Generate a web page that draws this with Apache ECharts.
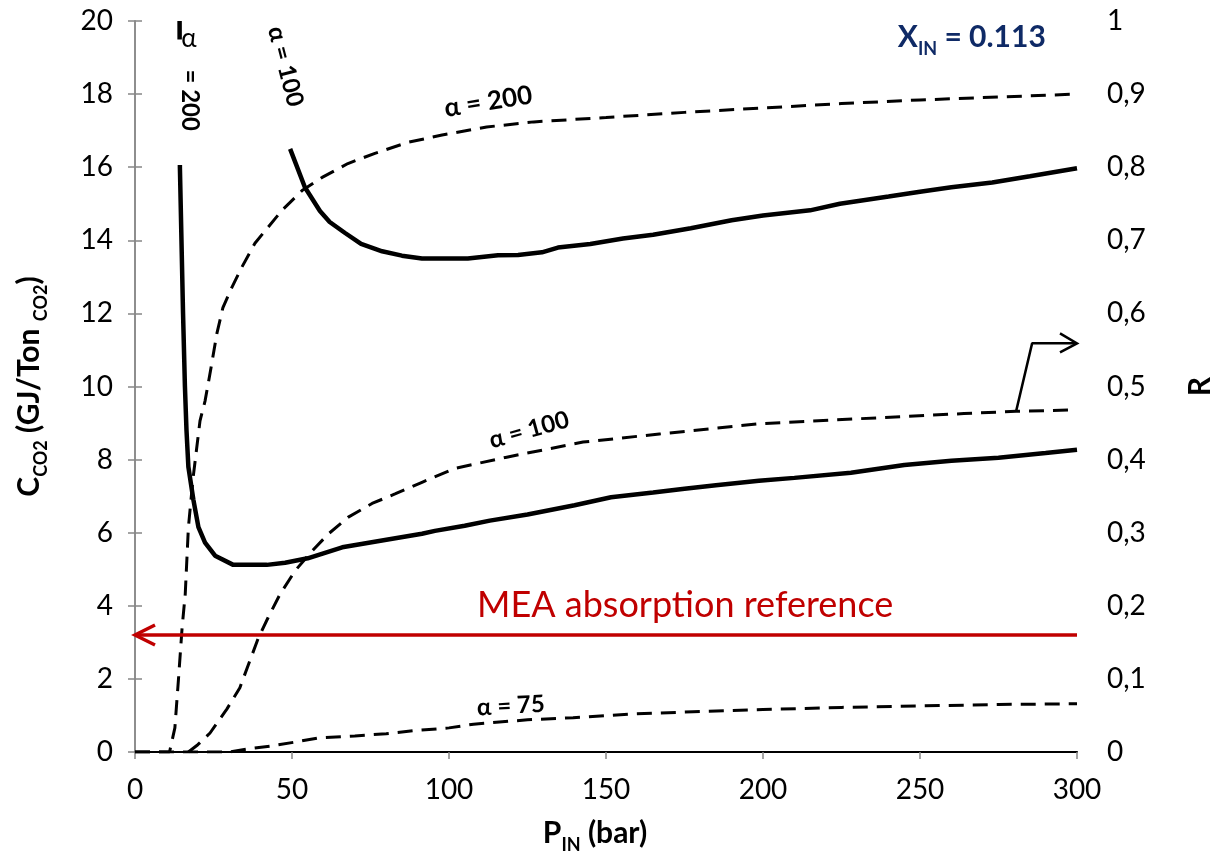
<!DOCTYPE html>
<html><head><meta charset="utf-8">
<script src="https://cdn.jsdelivr.net/npm/echarts@6/dist/echarts.min.js"></script>
<style>html,body{margin:0;padding:0;background:#fff}#c{width:1210px;height:854px}</style>
</head><body><div id="c"></div>
<script>
const FONT = 'Lato, "Open Sans", sans-serif';

// ---- Cost curves (left axis, GJ/Ton CO2) ----
const pSolid200 = [14.2, 14.3, 15.3, 15.9, 16.4, 17.0, 18.6, 20.2, 22.3, 25.5, 31.3, 42, 47.8, 55, 66, 79.6, 91.4, 95.5, 105, 113, 125, 140, 151.6, 165, 175, 185, 198.7, 210, 228, 245, 260, 275, 290, 300];
const cSolid200 = [20.0, 16.0, 12.0, 10.0, 8.8, 7.8, 6.9, 6.15, 5.73, 5.37, 5.12, 5.12, 5.18, 5.3, 5.6, 5.8, 5.97, 6.05, 6.19, 6.33, 6.5, 6.75, 6.97, 7.1, 7.2, 7.3, 7.42, 7.5, 7.64, 7.85, 7.97, 8.05, 8.18, 8.27];

const pSolid100 = [49.4, 54.1, 58.9, 62, 66.9, 72, 78.7, 85, 91.4, 100, 106, 115.6, 122, 129.6, 134.7, 145, 155.4, 165, 177, 190, 200, 215, 224.5, 240, 250, 260, 273, 285, 300];
const cSolid100 = [16.5, 15.45, 14.8, 14.5, 14.2, 13.9, 13.7, 13.58, 13.5, 13.5, 13.5, 13.59, 13.6, 13.67, 13.8, 13.9, 14.05, 14.15, 14.33, 14.55, 14.68, 14.82, 15.0, 15.2, 15.33, 15.45, 15.58, 15.75, 15.97];

// ---- Recovery curves (right axis, R) ----
const pDash200 = [0, 5, 10, 11, 12.7, 13.8, 15, 16, 17, 18.5, 20.7, 22.3, 23.9, 26.1, 28, 30.9, 34, 38.2, 42.4, 46.8, 53.2, 59.6, 67.8, 76.4, 86.9, 97.8, 112, 127, 150, 175, 200, 225, 250, 275, 300];
const rDash200 = [0, 0, 0, 0, 0.033, 0.097, 0.17, 0.216, 0.307, 0.375, 0.453, 0.48, 0.518, 0.573, 0.608, 0.636, 0.663, 0.696, 0.718, 0.741, 0.768, 0.786, 0.805, 0.819, 0.834, 0.844, 0.855, 0.862, 0.868, 0.875, 0.881, 0.887, 0.892, 0.896, 0.9];

const pDash100 = [17, 20, 23.9, 29.3, 33.4, 36.6, 39.2, 42.4, 46.2, 51, 56.4, 61.5, 67.8, 75.5, 82.8, 91.4, 101.9, 118, 142.7, 167, 198.7, 231, 264, 280.6, 300];
const rDash100 = [0, 0.01, 0.026, 0.059, 0.088, 0.125, 0.155, 0.184, 0.216, 0.248, 0.275, 0.298, 0.321, 0.34, 0.353, 0.369, 0.388, 0.403, 0.424, 0.435, 0.449, 0.456, 0.463, 0.466, 0.468];

const pDash75 = [0, 10, 20, 30, 35.6, 43, 51.6, 58, 70, 80, 88.5, 100, 107.8, 116, 125, 139.5, 158.6, 177.7, 200, 225, 250, 275, 300];
const rDash75 = [0, 0, 0, 0, 0.004, 0.008, 0.014, 0.019, 0.022, 0.025, 0.029, 0.033, 0.038, 0.041, 0.044, 0.047, 0.052, 0.055, 0.058, 0.061, 0.063, 0.065, 0.066];

// MEA reference (left axis)
const pMEA = [0, 300];
const cMEA = [3.2, 3.2];

// pointer to right axis (R)
const pPointer = [280.6, 285.7, 300];
const rPointer = [0.466, 0.559, 0.559];

// Axis ticks
const xTicks = {min: 0, max: 300, interval: 50};
const yLeftTicks = {min: 0, max: 20, interval: 2};
const yRightTicks = {min: 0, max: 1, interval: 0.1};

// Annotation texts and anchors (data coordinates on the left axis)
const labelTexts = ['α = 200', 'α = 100', 'α = 75', 'MEA absorption reference'];
const annX = [112.5, 125.5, 119.7, 175.2];
const annY = [17.79, 8.81, 1.26, 4.0];
const annRot = [9, 15.5, 3, 0];
const annSize = [26, 24, 24, 36];

const chart = echarts.init(document.getElementById('c'));
const pairs = (xs, ys) => xs.map((x, i) => [x, ys[i]]);
const axisGray = '#878787';
const dashType = [15, 9];

const subRich = {
  b: {fontSize: 30, fontWeight: 'bold', fontFamily: FONT, color: '#000', lineHeight: 42, verticalAlign: 'middle'},
  s: {fontSize: 18, fontWeight: 'bold', fontFamily: FONT, color: '#000', lineHeight: 21, verticalAlign: 'bottom'}
};

const option = {
  animation: false,
  backgroundColor: '#fff',
  grid: {left: 135, right: 133, top: 21, bottom: 102, outerBoundsMode: 'none', containLabel: false},
  xAxis: [{
    type: 'value', min: xTicks.min, max: xTicks.max, interval: xTicks.interval,
    position: 'bottom',
    name: '{b|P}{s|IN}{b| (bar)}', nameLocation: 'middle', nameGap: 60,
    nameTextStyle: {rich: subRich, padding: [0, 22, 0, 0]},
    axisLine: {show: true, lineStyle: {color: axisGray, width: 1.5}},
    axisTick: {show: true, inside: false, length: 7, lineStyle: {color: axisGray, width: 1.5}},
    axisLabel: {fontSize: 28, fontFamily: FONT, color: '#000', margin: 24},
    splitLine: {show: false}
  }, {
    type: 'value', min: xTicks.min, max: xTicks.max, position: 'top',
    axisLine: {show: true, lineStyle: {color: '#000', width: 2}},
    axisTick: {show: false}, axisLabel: {show: false}, splitLine: {show: false}
  }],
  yAxis: [{
    type: 'value', min: yLeftTicks.min, max: yLeftTicks.max, interval: yLeftTicks.interval,
    position: 'left',
    name: '{b|C}{s|CO2}{b| (GJ/Ton }{s|CO2}{b|)}', nameLocation: 'middle', nameRotate: 90, nameGap: 85,
    nameTextStyle: {rich: subRich},
    axisLine: {show: true, lineStyle: {color: axisGray, width: 1.5}},
    axisTick: {show: true, inside: false, length: 7, lineStyle: {color: axisGray, width: 1.5}},
    axisLabel: {fontSize: 28, fontFamily: FONT, color: '#000', margin: 22},
    splitLine: {show: false}
  }, {
    type: 'value', min: yRightTicks.min, max: yRightTicks.max, interval: yRightTicks.interval,
    position: 'right',
    name: 'R', nameLocation: 'middle', nameRotate: 90, nameGap: 108,
    nameTextStyle: {fontSize: 30, fontWeight: 'bold', fontFamily: FONT, color: '#000'},
    axisLine: {show: true, lineStyle: {color: axisGray, width: 1.5}},
    axisTick: {show: true, inside: false, length: 7, lineStyle: {color: axisGray, width: 1.5}},
    axisLabel: {fontSize: 28, fontFamily: FONT, color: '#000', margin: 30,
      formatter: v => (Math.abs(v) < 1e-9 ? '0' : Math.abs(v - 1) < 1e-9 ? '1' : v.toFixed(1).replace('.', ','))},
    splitLine: {show: false}
  }],
  series: [
    {type: 'line', name: 'R α=200', yAxisIndex: 1, data: pairs(pDash200, rDash200), showSymbol: false,
     lineStyle: {color: '#000', width: 3, type: dashType}, z: 2},
    {type: 'line', name: 'R α=100', yAxisIndex: 1, data: pairs(pDash100, rDash100), showSymbol: false,
     lineStyle: {color: '#000', width: 3, type: dashType}, z: 2},
    {type: 'line', name: 'R α=75', yAxisIndex: 1, data: pairs(pDash75, rDash75), showSymbol: false,
     lineStyle: {color: '#000', width: 3, type: dashType}, z: 2},
    {type: 'line', name: 'C α=200', yAxisIndex: 0, data: pairs(pSolid200, cSolid200), showSymbol: false,
     lineStyle: {color: '#000', width: 4.5}, z: 3},
    {type: 'line', name: 'C α=100', yAxisIndex: 0, data: pairs(pSolid100, cSolid100), showSymbol: false,
     lineStyle: {color: '#000', width: 4.5}, z: 3},
    {type: 'line', name: 'MEA', yAxisIndex: 0, data: pairs(pMEA, cMEA), showSymbol: false,
     lineStyle: {color: '#C00000', width: 3.5}, z: 3},
    {type: 'line', name: 'pointer', yAxisIndex: 1, data: pairs(pPointer, rPointer), showSymbol: false,
     lineStyle: {color: '#000', width: 2.5}, z: 3}
  ]
};
chart.setOption(option);

const toPx = (x, y, yi) => chart.convertToPixel({xAxisIndex: 0, yAxisIndex: yi || 0}, [x, y]);
const deg = d => d * Math.PI / 180;

const graphics = [];
// curve labels
for (let i = 0; i < 3; i++) {
  const p = toPx(annX[i], annY[i], 0);
  graphics.push({type: 'text', x: p[0], y: p[1], rotation: deg(annRot[i]), z: 100,
    style: {text: labelTexts[i], font: 'bold ' + annSize[i] + 'px ' + FONT, fill: '#000', align: 'center', verticalAlign: 'middle'}});
}
// MEA text
{
  const p = toPx(annX[3], annY[3], 0);
  graphics.push({type: 'text', x: p[0], y: p[1], z: 100,
    style: {text: labelTexts[3], font: annSize[3] + 'px ' + FONT, fill: '#C00000', align: 'center', verticalAlign: 'middle'}});
}
// vertical label on alpha=200 cost curve (white box)
{
  const p = toPx(17.3, 17.78, 0);
  graphics.push({type: 'text', x: p[0], y: p[1], rotation: -Math.PI / 2, z: 100,
    style: {text: '= 200', font: 'bold 24px ' + FONT, fill: '#000', align: 'center', verticalAlign: 'middle',
      backgroundColor: '#fff', padding: [8, 34, 8, 30]}});
  const q = toPx(17.2, 19.53, 0);
  graphics.push({type: 'text', x: q[0], y: q[1], z: 101,
    style: {text: 'α', font: '26px ' + FONT, fill: '#000', align: 'center', verticalAlign: 'middle'}});
}
// tilted label on alpha=100 cost curve (white box)
{
  const p = toPx(48.4, 18.6, 0);
  graphics.push({type: 'text', x: p[0], y: p[1], rotation: deg(-75.5), z: 100,
    style: {text: 'α = 100', font: 'bold 24px ' + FONT, fill: '#000', align: 'center', verticalAlign: 'middle',
      backgroundColor: '#fff', padding: [2, 38, 2, 26]}});
}
// X_IN label
{
  const p = toPx(266.5, 19.55, 0);
  graphics.push({type: 'text', x: p[0], y: p[1], z: 100,
    style: {text: '{b|X}{s|IN}{b| = 0.113}', align: 'center', verticalAlign: 'middle',
      rich: {
        b: {fontSize: 30, fontWeight: 'bold', fontFamily: FONT, fill: '#0F2A66', color: '#0F2A66', lineHeight: 42, verticalAlign: 'middle'},
        s: {fontSize: 18, fontWeight: 'bold', fontFamily: FONT, fill: '#0F2A66', color: '#0F2A66', lineHeight: 21, verticalAlign: 'bottom'}
      }}});
}
// arrowheads
{
  const t = toPx(pMEA[0], cMEA[0], 0);
  graphics.push({type: 'polyline', z: 100,
    shape: {points: [[t[0] + 20, t[1] - 10], [t[0], t[1]], [t[0] + 20, t[1] + 10]]},
    style: {stroke: '#C00000', lineWidth: 3.5, fill: null}});
  const u = toPx(pPointer[2], rPointer[2], 1);
  graphics.push({type: 'polyline', z: 100,
    shape: {points: [[u[0] - 17, u[1] - 10], [u[0], u[1]], [u[0] - 17, u[1] + 9]]},
    style: {stroke: '#000', lineWidth: 2.5, fill: null}});
}
chart.setOption({graphic: graphics});
</script>
</body></html>
